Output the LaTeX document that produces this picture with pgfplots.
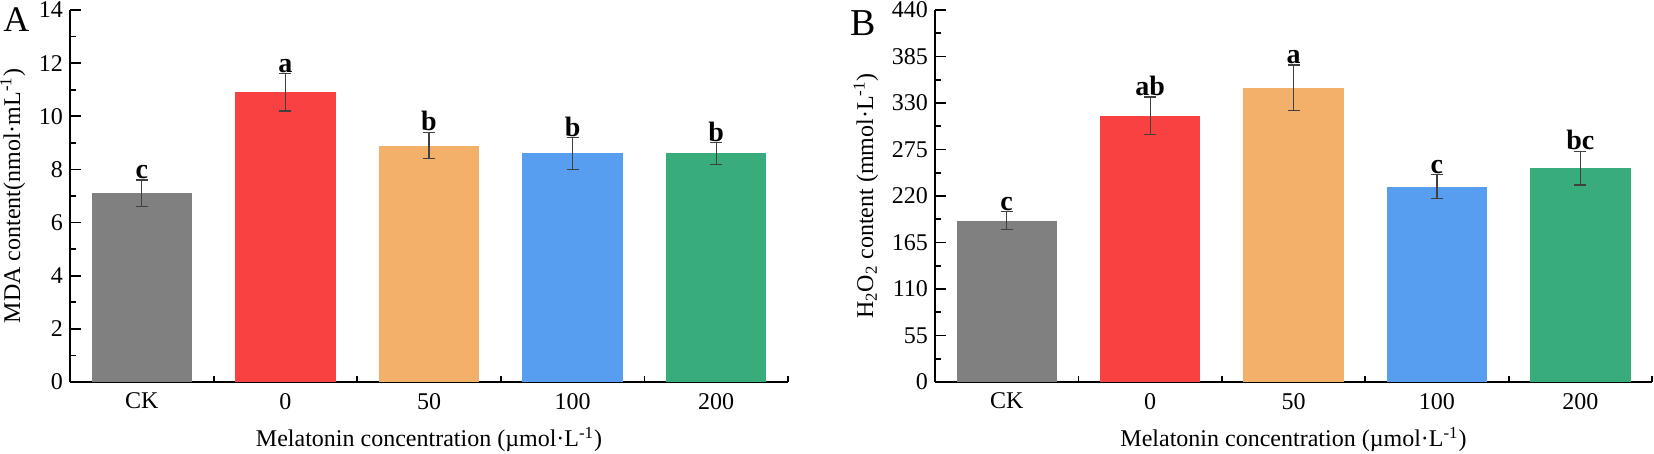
\documentclass[border=0pt]{standalone}
\usepackage{pgfplots}
\pgfplotsset{compat=1.18}
\usepackage{fontspec}
\setmainfont{Liberation Serif}
\definecolor{cgray}{RGB}{128,128,128}
\definecolor{cred}{RGB}{250,65,66}
\definecolor{corange}{RGB}{242,176,106}
\definecolor{cblue}{RGB}{87,157,240}
\definecolor{cgreen}{RGB}{56,172,122}
\pgfplotsset{
 mybars/.style={
  scale only axis, height=186bp,
  xmin=-0.5, xmax=4.5, ymin=0,
  axis x line*=bottom, axis y line*=left,
  axis line style={line width=0.9bp, -},
  tick style={line width=0.9bp, black},
  tick align=inside,
  major tick length=5.5bp, minor tick length=3bp,
  xtick={0,1,2,3,4}, xticklabels={CK,0,50,100,200},
  minor xtick={0.5,1.5,2.5,3.5,4.5},
  minor y tick num=1,
  ticklabel style={font=\fontsize{12bp}{14bp}\selectfont},
  xticklabel style={yshift=-2bp},
  label style={font=\fontsize{12bp}{14bp}\selectfont},
  /pgf/number format/assume math mode=true,
  xlabel={Melatonin concentration (µmol·L\textsuperscript{-1})},
  xlabel style={yshift=-2bp},
  clip=false,
 },
 mybar/.style={ybar, bar width=0.7, bar shift=0pt, draw=none, fill=#1,
   error bars/y dir=both, error bars/y explicit,
   error bars/error bar style={line width=0.6bp, black!75},
   error bars/error mark options={rotate=90, mark size=3bp, line width=0.6bp, black!75}},
 mylab/.style={draw=none, mark=none, nodes near coords, point meta=explicit symbolic,
   nodes near coords style={anchor=south, inner sep=0.3bp, font=\fontsize{14bp}{16bp}\selectfont\bfseries, black}},
}
\begin{document}
\begin{tikzpicture}
\begin{axis}[mybars, width=359bp, at={(35bp,36bp)}, anchor=south west,
  ymax=14, ytick={0,2,...,14},
  ylabel={MDA content(nmol·mL\textsuperscript{-1})}]
\addplot[mybar=cgray] coordinates {(0,7.1) +- (0,0.5)};
\addplot[mybar=cred] coordinates {(1,10.9) +- (0,0.7)};
\addplot[mybar=corange] coordinates {(2,8.9) +- (0,0.5)};
\addplot[mybar=cblue] coordinates {(3,8.6) +- (0,0.6)};
\addplot[mybar=cgreen] coordinates {(4,8.6) +- (0,0.4)};
\addplot[mylab] table[meta=l] {
x y l
0 7.6 c
1 11.6 a
2 9.4 b
3 9.2 b
4 9.0 b
};
\end{axis}
\begin{axis}[mybars, width=358.5bp, at={(467.5bp,36bp)}, anchor=south west,
  ymax=440, ytick={0,55,...,440},
  ylabel={H\textsubscript{2}O\textsubscript{2} content (mmol·L\textsuperscript{-1})}]
\addplot[mybar=cgray] coordinates {(0,191) +- (0,10.5)};
\addplot[mybar=cred] coordinates {(1,315) +- (0,22)};
\addplot[mybar=corange] coordinates {(2,348) +- (0,27)};
\addplot[mybar=cblue] coordinates {(3,231) +- (0,14)};
\addplot[mybar=cgreen] coordinates {(4,253) +- (0,20)};
\addplot[mylab] table[meta=l] {
x y l
0 201.5 c
1 337 ab
2 375 a
3 245 c
4 273 bc
};
\end{axis}
\node[anchor=base west, inner sep=0, font=\fontsize{18bp}{20bp}\selectfont] at (1.5bp,211bp) {A};
\node[anchor=base west, inner sep=0, font=\fontsize{19bp}{21bp}\selectfont] at (425bp,209bp) {B};
\pgfresetboundingbox
\path (0,0) rectangle (827bp,227bp);
\end{tikzpicture}
\end{document}
